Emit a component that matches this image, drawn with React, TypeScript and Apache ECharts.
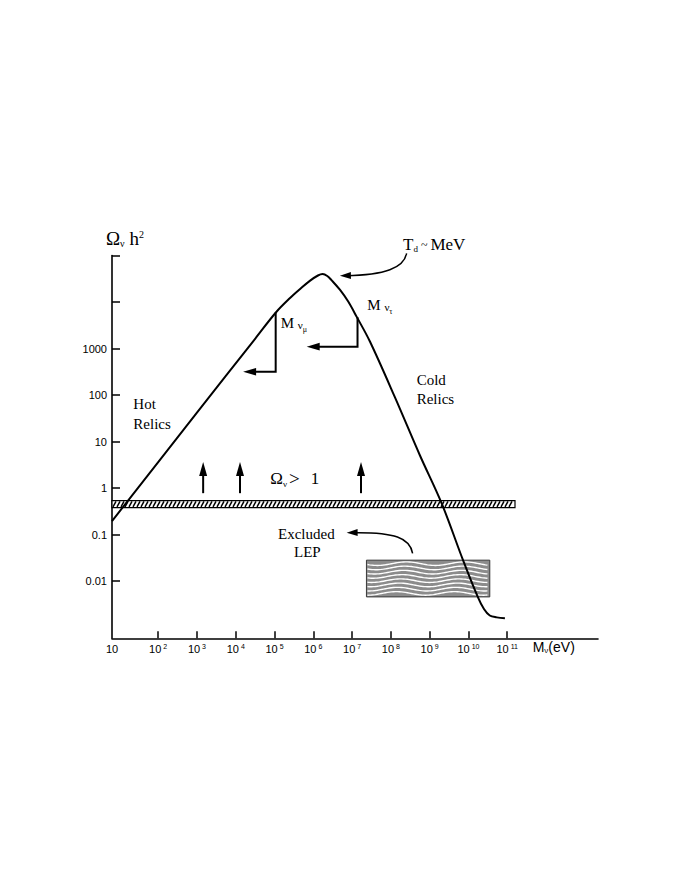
import React, { useEffect, useRef } from "react";
import * as echarts from "echarts";

// ---- data (log10 units) ----
const logMass = [0.81, 3.0, 4.5, 5.04, 5.4, 5.66, 5.91, 6.12, 6.24, 6.36, 6.47, 6.69, 6.9, 7.12, 7.46, 8.1, 8.75, 9.31, 9.86, 10.24, 10.4, 10.55, 10.73, 10.94];
const logOmega = [-0.71, 1.62, 3.21, 3.78, 4.086, 4.28, 4.455, 4.57, 4.6, 4.56, 4.47, 4.26, 4.01, 3.68, 3.15, 1.96, 0.7, -0.33, -1.55, -2.34, -2.6, -2.74, -2.78, -2.8];

const xTickValues = [2, 3, 4, 5, 6, 7, 8, 9, 10, 11];
const xLabelValues = [0.81, 2, 3, 4, 5, 6, 7, 8, 9, 10, 11];
const yTickValues = [-2, -1, 0, 1, 2, 3, 4, 5];
const yLabelValues = [-2, -1, 0, 1, 2, 3];
const yLabelTexts = ["0.01", "0.1", "1", "10", "100", "1000"];

const bandX = [0.81, 11.2];
const bandY = [-0.42, -0.27];
const lepX = [7.37, 10.55];
const lepY = [-2.34, -1.55];
const upArrowX = [3.16, 4.11, 7.23];
const upArrowY = [-0.11, 0.56];
// [x of vertical, y top, y bottom, x of arrow tip]
const numuStep = [5.03, 3.78, 2.5, 4.19];
const nutauStep = [7.14, 3.67, 3.04, 5.83];
// cubic bezier: start, control1, control2, tip
const tdArrow = [8.405, 5.047, 8.336, 4.731, 7.846, 4.581, 6.686, 4.566];
const lepArrow = [8.56, -1.404, 8.49, -1.075, 8.104, -0.946, 6.859, -0.961];

const SERIF = "Liberation Serif";
const SANS = "Liberation Sans";

function head(tip: number[], dir: number[], len: number, half: number) {
  const n = Math.hypot(dir[0], dir[1]) || 1;
  const ux = dir[0] / n, uy = dir[1] / n;
  const bx = tip[0] - ux * len, by = tip[1] - uy * len;
  return {
    type: "polygon",
    shape: { points: [tip, [bx - uy * half, by + ux * half], [bx + uy * half, by - ux * half]] },
    style: { fill: "#000" },
  };
}

function txt(x: number, baseline: number, text: string, fs: number, rich?: any, family = SERIF) {
  return {
    type: "text",
    x,
    y: baseline - 0.82 * fs,
    z: 10,
    style: { text, fontFamily: family, fontSize: fs, fill: "#000", rich },
  };
}

export default function App() {
  const ref = useRef<HTMLDivElement>(null);
  useEffect(() => {
    if (!ref.current) return;
    const chart = echarts.init(ref.current, undefined, { renderer: "svg" });
    const sub = (fs: number) => ({ fontFamily: SERIF, fontSize: fs, verticalAlign: "bottom" });
    const big = (fs: number) => ({ fontFamily: SERIF, fontSize: fs });
    chart.setOption({
      animation: false,
      backgroundColor: "#fff",
      grid: { left: 112, right: 94, top: 255.5, bottom: 257.7, containLabel: false },
      xAxis: {
        type: "value",
        min: 0.81,
        max: 13.34,
        axisLine: { show: true, onZero: false, lineStyle: { color: "#000", width: 1.6 } },
        axisTick: { show: true, inside: true, length: 7, customValues: xTickValues, lineStyle: { color: "#000", width: 1.5 } },
        splitLine: { show: false },
        axisLabel: {
          customValues: xLabelValues,
          color: "#000",
          fontFamily: SANS,
          fontSize: 11,
          margin: 5,
          formatter: (v: number) => (v < 1.5 ? "10" : `10{sup|${Math.round(v)}}`),
          rich: { sup: { color: "#000", fontFamily: SANS, fontSize: 7, verticalAlign: "top", lineHeight: 7, padding: [0, 0, 0, 2] } },
        },
      },
      yAxis: {
        type: "value",
        min: -3.23,
        max: 5,
        axisLine: { show: true, onZero: false, lineStyle: { color: "#000", width: 1.6 } },
        axisTick: { show: true, inside: true, length: 8, customValues: yTickValues, lineStyle: { color: "#000", width: 1.5 } },
        splitLine: { show: false },
        axisLabel: {
          customValues: yLabelValues,
          color: "#000",
          fontFamily: SANS,
          fontSize: 11,
          margin: 5,
          formatter: (v: number) => yLabelTexts[yLabelValues.indexOf(Math.round(v))] ?? "",
        },
      },
      series: [
        {
          type: "custom",
          z: 2,
          clip: false,
          silent: true,
          encode: { x: [0, 1], y: [2, 3] },
          data: [[bandX[0], bandX[1], bandY[0], bandY[1]]],
          renderItem: (_p: any, api: any) => {
            const tl = api.coord([api.value(0), api.value(3)]);
            const br = api.coord([api.value(1), api.value(2)]);
            const children: any[] = [
              { type: "rect", shape: { x: tl[0], y: tl[1], width: br[0] - tl[0], height: br[1] - tl[1] }, style: { fill: "#fff", stroke: "#000", lineWidth: 1.2 } },
            ];
            for (let x = tl[0] + 1; x + 3 < br[0]; x += 4) {
              children.push({ type: "line", shape: { x1: x, y1: br[1] - 0.8, x2: x + 3, y2: tl[1] + 0.8 }, style: { stroke: "#000", lineWidth: 1.5 } });
            }
            return { type: "group", children };
          },
        },
        {
          type: "custom",
          z: 2,
          clip: false,
          silent: true,
          encode: { x: [0, 1], y: [2, 3] },
          data: [[lepX[0], lepX[1], lepY[0], lepY[1]]],
          renderItem: (_p: any, api: any) => {
            const tl = api.coord([api.value(0), api.value(3)]);
            const br = api.coord([api.value(1), api.value(2)]);
            const w = br[0] - tl[0], h = br[1] - tl[1];
            const children: any[] = [
              { type: "rect", shape: { x: tl[0], y: tl[1], width: w, height: h }, style: { fill: "#8c8c8c", stroke: "#3a3a3a", lineWidth: 1 } },
            ];
            const n = 8;
            const gap = (h - 7) / (n - 1);
            for (let i = 0; i < n; i++) {
              const y0 = tl[1] + 3.5 + i * gap;
              const pts: number[][] = [];
              for (let x = tl[0] + 1; x <= br[0] - 1; x += 2) {
                pts.push([x, y0 + 1.8 * Math.sin(((x - tl[0]) / 58) * Math.PI * 2 + 0.4 + i * 0.15)]);
              }
              children.push({ type: "polyline", shape: { points: pts }, style: { stroke: "#fff", lineWidth: 1.4, fill: "none" } });
            }
            return { type: "group", children };
          },
        },
        {
          type: "custom",
          z: 4,
          clip: false,
          silent: true,
          encode: { x: 0, y: [1, 2] },
          data: upArrowX.map((x) => [x, upArrowY[0], upArrowY[1]]),
          renderItem: (_p: any, api: any) => {
            const b = api.coord([api.value(0), api.value(1)]);
            const t = api.coord([api.value(0), api.value(2)]);
            return {
              type: "group",
              children: [
                { type: "line", shape: { x1: b[0], y1: b[1], x2: t[0], y2: t[1] + 10 }, style: { stroke: "#000", lineWidth: 2 } },
                head(t, [0, -1], 14, 4),
              ],
            };
          },
        },
        {
          type: "custom",
          z: 4,
          clip: false,
          silent: true,
          encode: { x: [0, 3], y: [1, 2] },
          data: [numuStep, nutauStep],
          renderItem: (_p: any, api: any) => {
            const a = api.coord([api.value(0), api.value(1)]);
            const b = api.coord([api.value(0), api.value(2)]);
            const c = api.coord([api.value(3), api.value(2)]);
            return {
              type: "group",
              children: [
                { type: "polyline", shape: { points: [a, b, [c[0] + 10, c[1]]] }, style: { stroke: "#000", lineWidth: 2, fill: "none" } },
                head(c, [-1, 0], 13, 3.8),
              ],
            };
          },
        },
        {
          type: "custom",
          z: 4,
          clip: false,
          silent: true,
          encode: { x: [0, 2, 4, 6], y: [1, 3, 5, 7] },
          data: [tdArrow, lepArrow],
          renderItem: (_p: any, api: any) => {
            const p0 = api.coord([api.value(0), api.value(1)]);
            const c1 = api.coord([api.value(2), api.value(3)]);
            const c2 = api.coord([api.value(4), api.value(5)]);
            const p2 = api.coord([api.value(6), api.value(7)]);
            return {
              type: "group",
              children: [
                {
                  type: "bezierCurve",
                  shape: { x1: p0[0], y1: p0[1], cpx1: c1[0], cpy1: c1[1], cpx2: c2[0], cpy2: c2[1], x2: p2[0] + 6, y2: p2[1] },
                  style: { stroke: "#000", lineWidth: 1.5, fill: "none" },
                },
                head(p2, [p2[0] - c2[0], p2[1] - c2[1]], 11, 3.5),
              ],
            };
          },
        },
        {
          type: "line",
          z: 3,
          data: logMass.map((x, i) => [x, logOmega[i]]),
          smooth: 0.35,
          symbol: "none",
          lineStyle: { color: "#000", width: 2 },
        },
      ],
      graphic: [
        txt(106, 245, "{o|Ω}{s|ν}{g| }{o|h}{p|2}", 19, {
          o: big(19),
          s: sub(10),
          g: big(19),
          p: { fontFamily: SERIF, fontSize: 10, verticalAlign: "top" },
        }),
        txt(403, 250, "{t|T}{s|d}{m| ~ }{t|MeV}", 17, { t: big(17), s: sub(9), m: big(12) }),
        txt(280.7, 327.3, "{m|M }{n|ν}{s|μ}", 15, { m: big(15), n: sub(11), s: { fontFamily: SERIF, fontSize: 8, verticalAlign: "bottom", padding: [0, 0, -3, 0] } }),
        txt(367.3, 309.3, "{m|M }{n|ν}{s|τ}", 15, { m: big(15), n: sub(11), s: { fontFamily: SERIF, fontSize: 8, verticalAlign: "bottom", padding: [0, 0, -3, 0] } }),
        txt(133.3, 408.3, "Hot", 15),
        txt(133.3, 428.3, "Relics", 15),
        txt(416.7, 385, "Cold", 15),
        txt(416.7, 403.3, "Relics", 15),
        txt(270.3, 483.3, "{o|Ω}{s|ν}{g|>}{o|1}", 17, {
          o: big(17),
          s: sub(9),
          g: { fontFamily: SERIF, fontSize: 19, padding: [0, 11, 0, 2] },
        }),
        txt(278, 539, "Excluded", 15),
        txt(294, 556.7, "LEP", 15),
        txt(532.7, 651.7, "M{s|ν}(eV)", 14, { s: { fontFamily: SANS, fontSize: 8, verticalAlign: "bottom" } }, SANS),
      ],
    });
    return () => chart.dispose();
  }, []);
  return <div ref={ref} style={{ position: "fixed", left: 0, top: 0, width: 692, height: 896, background: "#fff" }} />;
}
